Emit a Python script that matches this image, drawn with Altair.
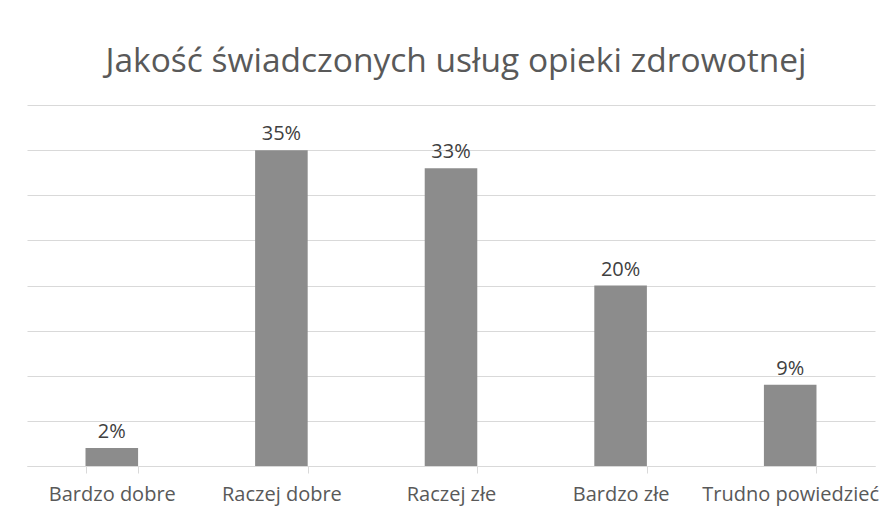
import altair as alt
import pandas as pd

categories = ["Bardzo dobre", "Raczej dobre", "Raczej złe", "Bardzo złe", "Trudno powiedzieć"]
values = [2, 35, 33, 20, 9]
labels = ["2%", "35%", "33%", "20%", "9%"]
y_ticks = [0, 5, 10, 15, 20, 25, 30, 35, 40]

df = pd.DataFrame({"cat": categories, "val": values, "lab": labels})

FONT = "Open Sans"

x = alt.X("cat:N", sort=categories, title=None,
          scale=alt.Scale(paddingInner=0.69, paddingOuter=0.345),
          axis=alt.Axis(labelAngle=0, labelFont=FONT, labelFontSize=20, labelColor="#595959",
                        labelPadding=11, domainColor="#d9d9d9", tickColor="#d9d9d9",
                        tickSize=7, tickBand="extent", labelLimit=300, grid=False))
y = alt.Y("val:Q", title=None,
          scale=alt.Scale(domain=[0, 40], nice=False),
          axis=alt.Axis(values=y_ticks, labels=False, ticks=False, domain=False,
                        grid=True, gridColor="#d9d9d9", gridWidth=1))

bars = alt.Chart(df).mark_bar(color="#8c8c8c").encode(x=x, y=y)
text = alt.Chart(df).mark_text(baseline="bottom", dy=-6, font=FONT, fontSize=20,
                               color="#404040").encode(x=alt.X("cat:N", sort=categories), y="val:Q", text="lab:N")

chart = (bars + text).properties(
    width=848, height=361,
    background="white",
    title=alt.Title("Jakość świadczonych usług opieki zdrowotnej", font=FONT, fontSize=33.5,
                    fontWeight="normal", color="#595959", offset=26, anchor="middle", dx=5),
    autosize=alt.AutoSizeParams(type="none"),
    padding={"left": 19, "top": 97, "right": 5, "bottom": 40},
).configure_view(stroke=None)

chart.save("out.html", embed_options={"renderer": "svg", "actions": False})
